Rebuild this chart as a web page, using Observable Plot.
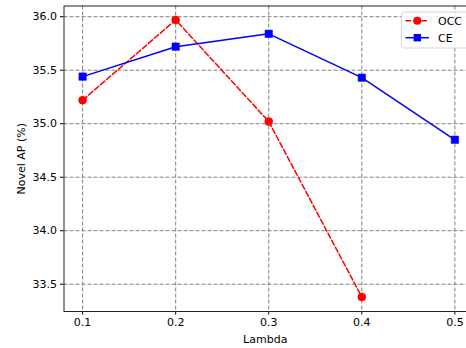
<!DOCTYPE html>
<html>
<head>
<meta charset="utf-8">
<script src="https://cdn.jsdelivr.net/npm/d3@7"></script>
<script src="https://cdn.jsdelivr.net/npm/@observablehq/plot@0.6"></script>
<style>
  html, body { margin: 0; padding: 0; background: #fff; }
  #chart { width: 466px; height: 348px; overflow: hidden; }
</style>
</head>
<body>
<div id="chart"></div>
<script>
const lambdas = [0.1, 0.2, 0.3, 0.4, 0.5];
const occLambdas = [0.1, 0.2, 0.3, 0.4];
const occValues = [35.22, 35.97, 35.02, 33.38];
const ceLambdas = [0.1, 0.2, 0.3, 0.4, 0.5];
const ceValues = [35.44, 35.72, 35.84, 35.43, 34.85];
const yTicks = [33.5, 34.0, 34.5, 35.0, 35.5, 36.0];
const seriesNames = ["OCC", "CE"];

const occ = occLambdas.map((x, i) => ({x, y: occValues[i]}));
const ce = ceLambdas.map((x, i) => ({x, y: ceValues[i]}));

const W = 466, H = 348;
const pLeft = 63.5, pRight = 473, pTop = 5.5, pBottom = 311;

const chart = Plot.plot({
  width: W,
  height: H,
  marginTop: pTop,
  marginBottom: H - pBottom,
  marginLeft: pLeft,
  marginRight: 0,
  style: {fontFamily: "DejaVu Sans", fontSize: "11px", background: "#fff", color: "#000"},
  x: {domain: [0.08, 0.52], range: [pLeft, pRight]},
  y: {domain: [33.245, 36.10], range: [pBottom, pTop]},
  marks: [
    Plot.gridX(lambdas, {stroke: "#808080", strokeOpacity: 1, strokeWidth: 1, strokeDasharray: "4,2"}),
    Plot.gridY(yTicks, {stroke: "#808080", strokeOpacity: 1, strokeWidth: 1, strokeDasharray: "4,2"}),
    Plot.axisX(lambdas, {tickSize: 3.5, tickPadding: 3.5, tickFormat: d3.format(".1f"), label: "Lambda", labelAnchor: "center", labelArrow: "none", labelOffset: 31}),
    Plot.axisY(yTicks, {tickSize: 3.5, tickPadding: 3.5, tickFormat: d3.format(".1f"), label: "Novel AP (%)", labelAnchor: "center", labelArrow: "none", labelOffset: 47}),
    Plot.line(occ, {x: "x", y: "y", stroke: "#ff0000", strokeWidth: 1.5, strokeDasharray: "5.5,2.4"}),
    Plot.dot(occ, {x: "x", y: "y", r: 4, fill: "#ff0000", stroke: "#ff0000", strokeWidth: 0.5}),
    Plot.line(ce, {x: "x", y: "y", stroke: "#0000ff", strokeWidth: 1.5}),
    Plot.dot(ce, {x: "x", y: "y", symbol: "square", r: 4.2, fill: "#0000ff", stroke: "#0000ff", strokeWidth: 0.5}),
    Plot.frame({stroke: "#222", strokeWidth: 1})
  ]
});
document.getElementById("chart").appendChild(chart);

// Legend (upper right, inside axes)
const svg = d3.select(chart);
const lg = svg.append("g").attr("font-family", "DejaVu Sans").attr("font-size", "11px").attr("text-anchor", "start");
lg.append("rect").attr("x", 401.5).attr("y", 12).attr("width", 67).attr("height", 36)
  .attr("rx", 2.5).attr("fill", "#fff").attr("fill-opacity", 0.85).attr("stroke", "#cccccc").attr("stroke-width", 0.8);
const colors = ["#ff0000", "#0000ff"];
const ys = [20.7, 37.7];
seriesNames.forEach((name, i) => {
  const y = ys[i];
  lg.append("line").attr("x1", 405.5).attr("x2", 429).attr("y1", y).attr("y2", y)
    .attr("stroke", colors[i]).attr("stroke-width", 1.5)
    .attr("stroke-dasharray", i === 0 ? "5.5,2.4" : null);
  if (i === 0) {
    lg.append("circle").attr("cx", 417.3).attr("cy", y).attr("r", 4).attr("fill", colors[i]);
  } else {
    lg.append("rect").attr("x", 413.6).attr("y", y - 3.7).attr("width", 7.4).attr("height", 7.4).attr("fill", colors[i]);
  }
  lg.append("text").attr("x", 438).attr("y", y).attr("dy", "0.35em").attr("text-anchor", "start").attr("fill", "#000").text(name);
});
</script>
</body>
</html>
